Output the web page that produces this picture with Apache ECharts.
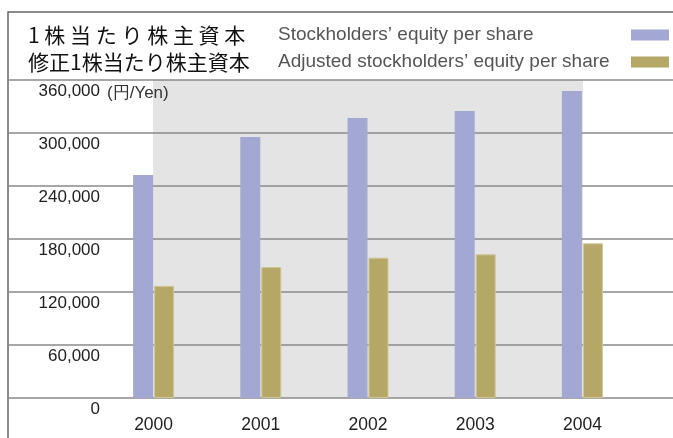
<!DOCTYPE html>
<html>
<head>
<meta charset="utf-8">
<script src="https://cdn.jsdelivr.net/npm/echarts@6/dist/echarts.min.js"></script>
<style>
  html, body { margin: 0; padding: 0; background: #fff; }
  #main { width: 673px; height: 438px; }
</style>
</head>
<body>
<div id="main"></div>
<script>
// 年度
var years = ['2000', '2001', '2002', '2003', '2004']
// 1株当たり株主資本 (円)
var equity = [252500, 295500, 317000, 325000, 347500]
// 修正1株当たり株主資本 (円)
var adjusted = [127000, 148300, 158900, 162700, 175100]
// 系列名
var seriesNames = ['Stockholders’ equity per share', 'Adjusted stockholders’ equity per share']
var seriesNamesJa = ['1 株 当 た り 株 主 資 本', '修正1株当たり株主資本']
// 縦軸
var yMin = 0
var yMax = 360000
var yStep = 60000

var sans = '"Liberation Sans", Arial, sans-serif'
var chart = echarts.init(document.getElementById('main'))

var option = {
  animation: false,
  color: ['#a3a8d3', '#b5a866'],
  legend: {
    data: seriesNames,
    orient: 'vertical',
    left: 28,
    top: 22,
    padding: 0,
    align: 'right',
    itemWidth: 38,
    itemHeight: 11,
    itemGap: 1,
    icon: 'rect',
    selectedMode: false,
    itemStyle: { borderWidth: 0 },
    formatter: function (name) {
      var i = seriesNames.indexOf(name)
      return '{ja|' + seriesNamesJa[i] + '}{en|' + name + '}'
    },
    textStyle: {
      lineHeight: 26,
      rich: {
        ja: {
          width: 250,
          align: 'left',
          fontSize: 21,
          fontFamily: '"Noto Sans CJK JP", sans-serif',
          color: '#111',
          lineHeight: 26
        },
        en: {
          width: 348,
          align: 'left',
          fontSize: 19,
          fontFamily: sans,
          color: '#555',
          lineHeight: 26
        }
      }
    }
  },
  graphic: [
    {
      // 外枠
      type: 'polyline',
      silent: true,
      shape: { points: [[8, 438], [8, 12], [673, 12]] },
      style: { stroke: '#666', lineWidth: 1.5, fill: null }
    }
  ],
  grid: [
    // 目盛線用
    { left: 8, right: 0, top: 80, bottom: 40 },
    // 棒グラフ用
    { left: 100, right: 37, top: 80, bottom: 40 },
    // 背景の灰色部分
    { left: 153, right: 90, top: 80, bottom: 40, show: true, backgroundColor: '#e4e4e4', borderWidth: 0 }
  ],
  xAxis: [
    { gridIndex: 0, type: 'value', show: false },
    {
      gridIndex: 1,
      type: 'category',
      data: years,
      axisLine: { show: false },
      axisTick: { show: false },
      axisLabel: {
        margin: 18,
        fontSize: 17.5,
        fontFamily: sans,
        color: '#222'
      }
    },
    { gridIndex: 2, type: 'value', show: false }
  ],
  yAxis: [
    {
      gridIndex: 0,
      type: 'value',
      min: yMin,
      max: yMax,
      interval: yStep,
      axisLine: { show: false },
      axisTick: { show: false },
      axisLabel: { show: false },
      splitLine: {
        lineStyle: { color: '#8a8a8a', width: 1.5 }
      }
    },
    {
      gridIndex: 1,
      type: 'value',
      min: yMin,
      max: yMax,
      interval: yStep,
      name: '(円/Yen)',
      nameLocation: 'end',
      nameGap: -13,
      nameTextStyle: {
        align: 'left',
        verticalAlign: 'middle',
        padding: [0, 0, 0, 7],
        fontSize: 17,
        fontFamily: sans,
        color: '#333'
      },
      axisLine: { show: false },
      axisTick: { show: false },
      splitLine: { show: false },
      axisLabel: {
        margin: 0,
        verticalAlign: 'top',
        padding: [3, 0, 0, 0],
        fontSize: 17,
        fontFamily: sans,
        color: '#222',
        formatter: function (v) {
          return echarts.format.addCommas(v)
        }
      }
    },
    { gridIndex: 2, type: 'value', show: false, splitLine: { show: false } }
  ],
  series: [
    {
      name: seriesNames[0],
      type: 'bar',
      xAxisIndex: 1,
      yAxisIndex: 1,
      barWidth: 20,
      barGap: '5%',
      data: equity
    },
    {
      name: seriesNames[1],
      type: 'bar',
      xAxisIndex: 1,
      yAxisIndex: 1,
      barWidth: 20,
      itemStyle: { borderColor: '#cfc79a', borderWidth: 1 },
      data: adjusted
    }
  ]
}

chart.setOption(option)
</script>
</body>
</html>
